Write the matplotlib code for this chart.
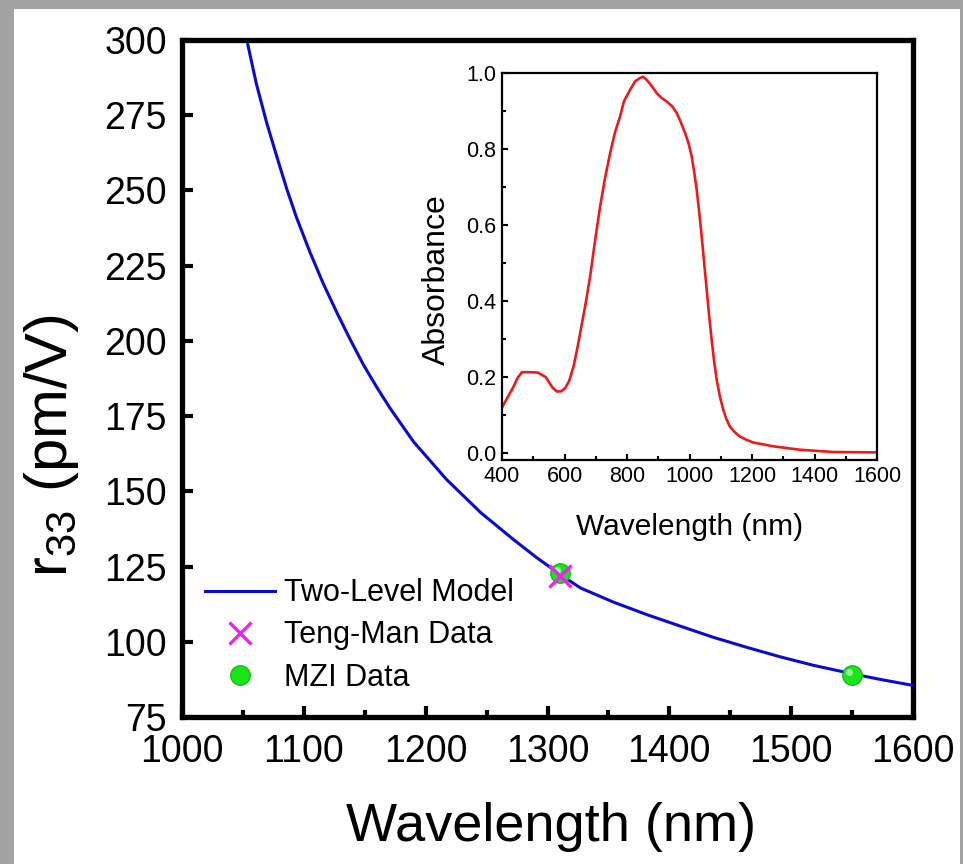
import matplotlib
matplotlib.use("Agg")
import matplotlib.pyplot as plt
from matplotlib.patches import Rectangle
from matplotlib.lines import Line2D
from matplotlib.ticker import MultipleLocator, FormatStrFormatter
import matplotlib.transforms as mtransforms

plt.rcParams['font.family'] = ['Liberation Sans', 'DejaVu Sans']
plt.rcParams['mathtext.fontset'] = 'custom'
plt.rcParams['mathtext.rm'] = 'Liberation Sans'
plt.rcParams['mathtext.it'] = 'Liberation Sans'

# ---- main data: two-level model curve ----
model_wl = [1054, 1061, 1069.5, 1078, 1086, 1094, 1105, 1116, 1127, 1138, 1149,
            1160, 1171, 1190, 1217, 1245, 1272, 1291, 1310, 1327, 1354, 1381, 1409,
            1436, 1464, 1491, 1518, 1551, 1573, 1600]
model_r33 = [298.5, 285.5, 272.5, 261, 250.5, 241, 229.5, 219, 209.5, 200.5, 192,
             184.5, 177.5, 166.5, 154, 143, 134, 128, 122.5, 117.9, 113.2, 109.1, 105.2,
             101.5, 98.1, 95.0, 92.2, 89.3, 87.5, 85.5]

tengman_wl = [1310]
tengman_r33 = [122]
mzi_wl = [1310, 1550]
mzi_r33 = [123, 89]

# ---- inset data: absorbance spectrum ----
abs_wl = [400, 420, 437, 450, 464, 490, 515, 540, 562, 576, 590, 602, 615, 629,
          642, 656, 669, 682, 698, 714, 730, 746, 762, 778, 790, 810, 826, 842,
          852, 863, 880, 895, 910, 927, 945, 959, 970, 986, 997, 1007, 1015,
          1023, 1031, 1039, 1047, 1055, 1063, 1071, 1079, 1087, 1097, 1108, 1118,
          1129, 1145, 1161, 1180, 1204, 1268, 1353, 1460, 1600]
abs_val = [0.12, 0.15, 0.175, 0.198, 0.213, 0.213, 0.212, 0.2, 0.172, 0.162,
           0.163, 0.171, 0.19, 0.228, 0.28, 0.342, 0.4, 0.465, 0.56, 0.649, 0.725,
           0.789, 0.845, 0.886, 0.925, 0.956, 0.978, 0.987, 0.99, 0.982, 0.965,
           0.947, 0.935, 0.925, 0.912, 0.895, 0.875, 0.842, 0.815, 0.781, 0.74,
           0.693, 0.635, 0.57, 0.5, 0.43, 0.36, 0.298, 0.24, 0.193, 0.15, 0.114,
           0.09, 0.07, 0.055, 0.044, 0.036, 0.028, 0.018, 0.009, 0.003, 0.002]

W, H = 963, 864
fig = plt.figure(figsize=(W / 100, H / 100), dpi=100)
fig.patch.set_facecolor('#a3a3a3')
fig.patches.append(Rectangle((14 / W, 0), (960 - 14) / W, (H - 9) / H,
                             transform=fig.transFigure, facecolor='white',
                             edgecolor='none', zorder=-10))

# ---- main axes ----
ax = fig.add_axes([182 / W, 1 - 717 / H, 731 / W, 677 / H])
ax.plot(model_wl, model_r33, color='#0a0ad2', lw=2.2, label='Two-Level Model',
        zorder=3, solid_joinstyle='round')
ax.plot(mzi_wl, mzi_r33, linestyle='none', marker='o', ms=14,
        mfc='#19e619', mec='#10c010', mew=1, zorder=4)
hl = mtransforms.offset_copy(ax.transData, fig=fig, x=-2.2, y=2.2, units='points')
ax.plot(mzi_wl, mzi_r33, linestyle='none', marker='o', ms=5,
        mfc='#b8ffb8', mec='none', alpha=0.8, transform=hl, zorder=5)
ax.plot(tengman_wl, tengman_r33, linestyle='none', marker='x', ms=16, mew=2.4,
        color='#ee22ee', zorder=6)

ax.set_xlim(1000, 1600)
ax.set_ylim(75, 300)
ax.xaxis.set_major_locator(MultipleLocator(100))
ax.xaxis.set_minor_locator(MultipleLocator(50))
ax.yaxis.set_major_locator(MultipleLocator(25))
for s in ax.spines.values():
    s.set_linewidth(3.8)
ax.tick_params(axis='both', which='major', direction='in', length=8, width=3,
               labelsize=27)
ax.tick_params(axis='x', which='major', pad=12)
ax.tick_params(axis='y', which='major', pad=11)
ax.tick_params(axis='x', which='minor', direction='in', length=5, width=3)
ax.tick_params(top=False, right=False, which='both')

ax.set_xlabel('Wavelength (nm)', fontsize=39, va='center')
ax.xaxis.set_label_coords(0.505, -0.163)
ax.set_ylabel('r$_{33}$ (pm/V)', fontsize=43, va='center')
ax.yaxis.set_label_coords(-0.178, 0.40)

handles = [Line2D([], [], color='#0a0ad2', lw=2.2),
           Line2D([], [], linestyle='none', marker='x', ms=16, mew=2.4, color='#ee22ee'),
           Line2D([], [], linestyle='none', marker='o', ms=14, mfc='#19e619',
                  mec='#10c010')]
ax.legend(handles, ['Two-Level Model', 'Teng-Man Data', 'MZI Data'],
          loc='upper left', bbox_to_anchor=(0.031, 0.205), frameon=False,
          fontsize=22, handlelength=2.3, handletextpad=0.3, labelspacing=0.4,
          borderpad=0, borderaxespad=0)

# ---- inset ----
ins = fig.add_axes([502 / W, 1 - 460 / H, 375 / W, 387 / H])
ins.plot(abs_wl, abs_val, color='#ee1a1a', lw=1.9, solid_joinstyle='round')
ins.set_xlim(400, 1600)
ins.set_ylim(-0.018, 1.0)
ins.xaxis.set_major_locator(MultipleLocator(200))
ins.xaxis.set_minor_locator(MultipleLocator(100))
ins.yaxis.set_major_locator(MultipleLocator(0.2))
ins.yaxis.set_minor_locator(MultipleLocator(0.1))
ins.yaxis.set_major_formatter(FormatStrFormatter('%.1f'))
for s in ins.spines.values():
    s.set_linewidth(1.6)
ins.tick_params(axis='both', which='major', direction='in', length=4, width=1.5,
                labelsize=15.5, pad=4)
ins.tick_params(axis='both', which='minor', direction='in', length=3, width=1.5)
ins.tick_params(top=False, right=False, which='both')
ins.set_xlabel('Wavelength (nm)', fontsize=21.5, va='center')
ins.xaxis.set_label_coords(0.5, -0.173)
ins.set_ylabel('Absorbance', fontsize=23, va='center')
ins.yaxis.set_label_coords(-0.173, 0.465)

fig.savefig('out.png', dpi=100, facecolor=fig.get_facecolor())
